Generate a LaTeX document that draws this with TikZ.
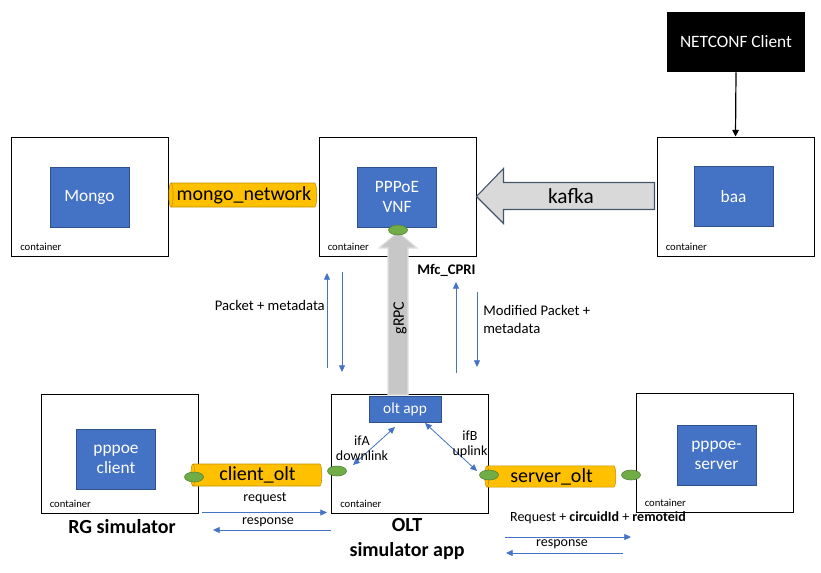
\documentclass[tikz,border=0pt]{standalone}
\usepackage{fontspec}
\setmainfont{Carlito}
\usetikzlibrary{arrows.meta,shapes.geometric}
\definecolor{boxblue}{HTML}{4472C4}
\definecolor{boxline}{HTML}{2F528F}
\definecolor{tubefill}{HTML}{FFC000}
\definecolor{tubeline}{HTML}{BF9000}
\definecolor{portfill}{HTML}{70AD47}
\definecolor{portline}{HTML}{507E32}
\definecolor{kafkafill}{HTML}{D9D9D9}
\definecolor{kafkaline}{HTML}{44546A}
\begin{document}
\begin{tikzpicture}[x=0.75pt,y=-0.75pt,
  container/.style={draw,line width=0.75pt,minimum width=117.75pt,minimum height=89.25pt,inner sep=0pt},
  service/.style={draw=boxline,fill=boxblue,text=white,minimum width=59.25pt,minimum height=45pt,align=center,inner sep=0pt,font=\fontsize{13}{15}\selectfont},
  ctag/.style={anchor=west,inner sep=0pt,font=\fontsize{8}{9.6}\selectfont},
  tube/.style={cylinder,shape border rotate=180,aspect=0.25,draw=tubeline,cylinder uses custom fill,cylinder body fill=tubefill,cylinder end fill=tubefill,inner sep=0pt,font=\fontsize{15}{18}\selectfont},
  port/.style={ellipse,draw=portline,fill=portfill,minimum width=14.25pt,minimum height=7.5pt,inner sep=0pt},
  flow/.style={boxblue,line width=0.6pt,-{Triangle[length=5pt,width=4.5pt]}},
  twoway/.style={boxblue,line width=0.6pt,{Triangle[length=5pt,width=4.5pt]}-{Triangle[length=5pt,width=4.5pt]}},
  note/.style={inner sep=0pt,font=\fontsize{11}{13.5}\selectfont},
  small/.style={inner sep=0pt,font=\fontsize{10.5}{11.25}\selectfont},
  title/.style={inner sep=0pt,font=\bfseries\fontsize{15}{18.75}\selectfont}]
\useasboundingbox (0,0) rectangle (821,572);
% containers
\node[container] (mongoC) at (90,196.5) {};
\node[container] (vnfC) at (397.5,196.5) {};
\node[container] (baaC) at (735.5,196.5) {};
\node[container] (rgC) at (119.5,454) {};
\node[container] (oltC) at (410,454) {};
\node[container] (srvC) at (714.5,453) {};
\foreach \c in {mongoC,vnfC,baaC,rgC,oltC,srvC}
  \node[ctag] at ([shift={(9,-10)}]\c.south west) {container};
% services
\node[service] (mongo) at (89.5,197) {Mongo};
\node[service] (vnf) at (397,197) {PPPoE\\VNF};
\node[service] (baa) at (733.5,196.5) {baa};
\node[service] (client) at (116,459) {pppoe\\client};
\node[service] (server) at (716.5,455.5) {pppoe-\\server};
\node[service,minimum width=54pt,minimum height=19.5pt,font=\fontsize{11.5}{13}\selectfont] (oltapp) at (405,409) {olt app};
\node[fill=black,text=white,minimum width=103.5pt,minimum height=45pt,font=\fontsize{13}{15}\selectfont] (netconf) at (736,42) {NETCONF Client};
\draw[-{Triangle[length=5pt,width=5pt]},line width=0.9pt] (netconf.south) -- (baaC.north);
% kafka and gRPC
\draw[kafkaline,fill=kafkafill,line width=0.8pt] (vnfC.east) -- ++(27,-28) -- ++(0,14) -- ++(151,0) -- ++(0,27) -- ++(-151,0) -- ++(0,14) -- cycle;
\node[font=\fontsize{16}{19}\selectfont] (kafka) at (571,196) {kafka};
\coordinate (grpcTip) at (398,232);
\draw[black!12,fill=black!22,line width=0.8pt] (grpcTip) -- ++(19,16) -- ++(-9,0) -- ++(0,147) -- ++(-20,0) -- ++(0,-147) -- ++(-9,0) -- cycle;
\node[rotate=90,font=\fontsize{12}{14}\selectfont] (grpc) at (400,318) {gRPC};
% networks
\node[tube,minimum height=111pt,minimum width=18pt] (mongonet) at (244,195) {mongo\_network};
\node[tube,minimum height=98.25pt,minimum width=16.5pt] (clientolt) at (257.5,475) {client\_olt};
\node[tube,minimum height=98.25pt,minimum width=16pt] (serverolt) at (551.5,476.5) {server\_olt};
\node[port] (vnfport) at (398,230) {};
\node[port] (rgport) at (194,477) {};
\node[port] (oltA) at (337,471) {};
\node[port] (oltB) at (489,475) {};
\node[port] (srvport) at (631,475) {};
% packet flows
\coordinate (pmUpA) at (327,368);
\coordinate (pmUpB) at (327,273);
\coordinate (pmDnA) at (342,272);
\coordinate (pmDnB) at (342,372);
\coordinate (mpUpA) at (456,373);
\coordinate (mpUpB) at (456,282);
\coordinate (mpDnA) at (477,292);
\coordinate (mpDnB) at (477,367);
\draw[flow] (pmUpA) -- (pmUpB);
\draw[flow] (pmDnA) -- (pmDnB);
\draw[flow] (mpUpA) -- (mpUpB);
\draw[flow] (mpDnA) -- (mpDnB);
\node[note,anchor=west] (mfc) at (417,270) {\textbf{Mfc\_CPRI}};
\node[note,anchor=east] (pktl) at (325,305) {Packet + metadata};
\node[note,anchor=west,align=left] (pktr) at (483,319) {Modified Packet +\\metadata};
% olt interfaces
\coordinate (ifaA) at (395,427);
\coordinate (ifaB) at (353,465);
\coordinate (ifbA) at (425,423);
\coordinate (ifbB) at (477,471);
\draw[twoway] (ifaA) -- (ifaB);
\draw[twoway] (ifbA) -- (ifbB);
\node[small,align=center] (ifa) at (362,448.5) {ifA\\downlink};
\node[small,align=center] (ifb) at (470,444.5) {ifB\\uplink};
% request / response
\coordinate (reqA) at (202,512.5);
\coordinate (reqB) at (327,512.5);
\coordinate (respA) at (331,530);
\coordinate (respB) at (213,530);
\coordinate (req2A) at (505,537);
\coordinate (req2B) at (631,537);
\coordinate (resp2A) at (623,553);
\coordinate (resp2B) at (506,553);
\draw[flow] (reqA) -- (reqB);
\draw[flow] (respA) -- (respB);
\draw[flow] (req2A) -- (req2B);
\draw[flow] (resp2A) -- (resp2B);
\node[small] (req) at (265,498) {request};
\node[small] (resp) at (268,522) {response};
\node[small] (req2) at (598,518) {Request + \textbf{circuidId} + \textbf{remoteid}};
\node[small] (resp2) at (562,544) {response};
\node[title] (rgname) at (122,527) {RG simulator};
\node[title,align=center] (oltname) at (407,539.5) {OLT\\simulator app};
\end{tikzpicture}
\end{document}
